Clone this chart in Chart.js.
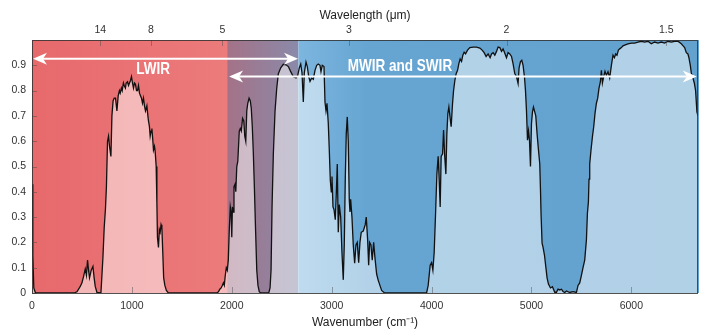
<!DOCTYPE html>
<html>
<head>
<meta charset="utf-8">
<script src="https://cdn.jsdelivr.net/npm/chart.js@4.4.1/dist/chart.umd.min.js"></script>
<style>
  html, body { margin: 0; padding: 0; background: #fff; }
</style>
</head>
<body>
<canvas id="chart" width="703" height="330"></canvas>
<script>
'use strict';

/* ── Datos: transmisión atmosférica vs número de onda ── */
const wavenumber = [
  0, 8, 18, 35, 200, 420, 450, 483, 500, 516, 533, 545, 556, 566, 576, 593, 610, 622, 633, 650,
  690, 710, 723, 735, 745, 756, 766, 776, 790, 800, 812, 823, 836, 850, 863, 875, 883, 895, 903, 915,
  923, 935, 943, 956, 966, 976, 986, 996, 1006, 1016, 1026, 1036, 1046, 1056, 1066, 1076, 1086, 1096, 1106, 1116,
  1126, 1136, 1150, 1160, 1166, 1175, 1183, 1192, 1200, 1210, 1216, 1226, 1233, 1243, 1250, 1256, 1266, 1275, 1283, 1292,
  1300, 1310, 1318, 1330, 1345, 1365, 1850, 1866, 1880, 1893, 1905, 1916, 1925, 1935, 1945, 1955, 1965, 1975, 1985, 1993,
  2000, 2006, 2015, 2022, 2033, 2040, 2050, 2060, 2075, 2085, 2095, 2108, 2120, 2130, 2140, 2150, 2160, 2173, 2185, 2195,
  2205, 2215, 2226, 2238, 2250, 2262, 2275, 2290, 2370, 2383, 2393, 2403, 2416, 2433, 2450, 2466, 2490, 2516, 2543, 2566,
  2590, 2616, 2643, 2660, 2676, 2690, 2703, 2716, 2726, 2743, 2756, 2770, 2783, 2800, 2816, 2833, 2850, 2866, 2883, 2893,
  2906, 2923, 2933, 2943, 2953, 2966, 2976, 2986, 2996, 3003, 3013, 3023, 3036, 3046, 3056, 3066, 3076, 3090, 3103, 3116,
  3126, 3136, 3146, 3156, 3166, 3176, 3183, 3190, 3203, 3216, 3230, 3243, 3256, 3270, 3283, 3296, 3316, 3336, 3346, 3360,
  3370, 3380, 3393, 3406, 3420, 3433, 3450, 3466, 3483, 3500, 3530, 3950, 3966, 3986, 4000, 4013, 4026, 4040, 4053, 4066,
  4076, 4086, 4096, 4110, 4120, 4130, 4143, 4153, 4163, 4173, 4186, 4196, 4210, 4220, 4233, 4246, 4260, 4273, 4286, 4300,
  4313, 4326, 4340, 4360, 4383, 4416, 4450, 4483, 4506, 4526, 4546, 4566, 4586, 4600, 4616, 4633, 4650, 4666, 4683, 4700,
  4716, 4733, 4750, 4766, 4783, 4800, 4816, 4833, 4850, 4866, 4876, 4890, 4903, 4916, 4930, 4940, 4950, 4960, 4970, 4980,
  4990, 5000, 5010, 5020, 5030, 5043, 5056, 5070, 5083, 5090, 5096, 5106, 5116, 5130, 5143, 5156, 5170, 5190, 5210, 5233,
  5250, 5266, 5283, 5300, 5316, 5333, 5350, 5383, 5416, 5450, 5466, 5483, 5500, 5516, 5533, 5550, 5560, 5570, 5576, 5583,
  5596, 5610, 5623, 5636, 5650, 5663, 5676, 5690, 5700, 5710, 5723, 5736, 5750, 5766, 5783, 5800, 5816, 5830, 5843, 5856,
  5870, 5883, 5900, 5916, 5933, 5966, 6000, 6033, 6066, 6100, 6133, 6166, 6200, 6233, 6266, 6300, 6333, 6366, 6400, 6433,
  6466, 6500, 6516, 6533, 6550, 6566, 6576, 6590, 6600, 6616, 6630, 6643, 6656, 6667
];

const transmission = [
  0.43, 0.15, 0.02, 0, 0, 0, 0.005, 0.026, 0.04, 0.065, 0.095, 0.07, 0.13, 0.09, 0.06, 0.09, 0.105, 0.06, 0.026, 0.002,
  0, 0.14, 0.26, 0.33, 0.42, 0.60, 0.62, 0.58, 0.54, 0.70, 0.76, 0.77, 0.77, 0.72, 0.78, 0.80, 0.79, 0.81, 0.80, 0.83,
  0.82, 0.81, 0.83, 0.835, 0.82, 0.83, 0.84, 0.855, 0.83, 0.81, 0.83, 0.825, 0.80, 0.80, 0.82, 0.79, 0.78, 0.77, 0.75, 0.77,
  0.74, 0.72, 0.74, 0.70, 0.68, 0.66, 0.62, 0.64, 0.65, 0.60, 0.565, 0.58, 0.56, 0.50, 0.36, 0.22, 0.18, 0.25, 0.24, 0.27,
  0.26, 0.15, 0.06, 0.03, 0.01, 0, 0, 0.005, 0.015, 0.02, 0.03, 0.04, 0.03, 0.07, 0.10, 0.09, 0.13, 0.25, 0.34, 0.32,
  0.22, 0.34, 0.32, 0.42, 0.43, 0.40, 0.50, 0.52, 0.64, 0.65, 0.64, 0.69, 0.68, 0.62, 0.60, 0.72, 0.75, 0.77, 0.76, 0.73,
  0.66, 0.56, 0.42, 0.25, 0.09, 0.03, 0.005, 0, 0, 0.02, 0.09, 0.34, 0.55, 0.72, 0.81, 0.867, 0.89, 0.904, 0.902, 0.895,
  0.875, 0.855, 0.85, 0.86, 0.89, 0.905, 0.87, 0.755, 0.87, 0.913, 0.895, 0.855, 0.836, 0.85, 0.845, 0.88, 0.90, 0.905, 0.90, 0.875,
  0.90, 0.895, 0.755, 0.72, 0.75, 0.67, 0.565, 0.447, 0.40, 0.46, 0.34, 0.33, 0.29, 0.39, 0.51, 0.24, 0.35, 0.30, 0.158, 0.052,
  0.19, 0.45, 0.63, 0.696, 0.60, 0.37, 0.32, 0.37, 0.30, 0.19, 0.118, 0.19, 0.20, 0.12, 0.20, 0.24, 0.245, 0.27, 0.30, 0.21,
  0.11, 0.20, 0.19, 0.13, 0.20, 0.14, 0.075, 0.05, 0.03, 0.01, 0, 0, 0.03, 0.11, 0.12, 0.09, 0.16, 0.315, 0.47, 0.54,
  0.45, 0.34, 0.54, 0.55, 0.644, 0.55, 0.47, 0.63, 0.71, 0.735, 0.69, 0.657, 0.75, 0.80, 0.84, 0.867, 0.88, 0.907, 0.925, 0.915,
  0.94, 0.952, 0.945, 0.96, 0.97, 0.972, 0.972, 0.968, 0.96, 0.95, 0.935, 0.945, 0.93, 0.945, 0.95, 0.94, 0.955, 0.972, 0.97, 0.955,
  0.965, 0.948, 0.93, 0.95, 0.945, 0.935, 0.906, 0.867, 0.855, 0.828, 0.89, 0.915, 0.92, 0.90, 0.853, 0.80, 0.72, 0.604, 0.64, 0.604,
  0.50, 0.67, 0.716, 0.735, 0.72, 0.70, 0.63, 0.565, 0.51, 0.41, 0.31, 0.197, 0.18, 0.15, 0.105, 0.06, 0.035, 0.02, 0.025, 0.003,
  0.003, 0.015, 0.012, 0.015, 0.006, 0.002, 0.008, 0.002, 0.005, 0.002, 0.03, 0.04, 0.07, 0.10, 0.13, 0.21, 0.315, 0.36, 0.45, 0.51,
  0.565, 0.617, 0.657, 0.71, 0.75, 0.77, 0.81, 0.835, 0.88, 0.83, 0.855, 0.876, 0.86, 0.875, 0.85, 0.90, 0.94, 0.93, 0.945, 0.94,
  0.96, 0.965, 0.97, 0.977, 0.98, 0.985, 0.988, 0.988, 0.992, 0.995, 0.992, 0.995, 0.985, 0.992, 0.988, 0.992, 0.988, 0.995, 0.992, 0.995,
  0.995, 0.985, 0.978, 0.97, 0.95, 0.945, 0.93, 0.90, 0.87, 0.85, 0.83, 0.80, 0.716, 0.70
];

/* ── Ejes ── */
const xTicks = [0, 1000, 2000, 3000, 4000, 5000, 6000];
const yTicks = [0, 0.1, 0.2, 0.3, 0.4, 0.5, 0.6, 0.7, 0.8, 0.9];
const wavelengthLabels = ['14', '8', '5', '3', '2', '1.5'];
const wavelengthTickAt = [683, 1190, 1906, 3173, 4750, 6350];

/* ── Bandas y flechas (en unidades de datos) ── */
const bandEdges = [0, 1953, 2667, 6667];
const bandNames = ['LWIR', 'MWIR and SWIR'];
const arrowFrom = [0, 1963];
const arrowTo = [2663, 6655];
const arrowLevel = [0.926, 0.856];
const nameAt = [1213, 3683];
const nameLevel = [0.885, 0.894];

const TICK_FONT = { family: '"Liberation Sans", Arial, sans-serif', size: 10.5 };
const TITLE_FONT = { family: '"Liberation Sans", Arial, sans-serif', size: 12 };
const BAND_FONT = 'bold 16.5px "Liberation Sans", Arial, sans-serif';

/* ── Fondo por bandas ── */
const bandBackground = {
  id: 'bandBackground',
  beforeDatasetsDraw(chart) {
    const { ctx, chartArea: a, scales: { x } } = chart;
    const px = v => x.getPixelForValue(v);
    const h = a.bottom - a.top;
    ctx.save();

    const x0 = px(bandEdges[0]), x1 = px(bandEdges[1]), x2 = px(bandEdges[2]), x3 = px(bandEdges[3]);

    let g = ctx.createLinearGradient(x0, 0, x1, 0);
    g.addColorStop(0, '#e7696c');
    g.addColorStop(1, '#ec7b7c');
    ctx.fillStyle = g;
    ctx.fillRect(x0, a.top, x1 - x0, h);

    g = ctx.createLinearGradient(x1, 0, x2, 0);
    g.addColorStop(0, '#a47287');
    g.addColorStop(1, '#8a8aaa');
    ctx.fillStyle = g;
    ctx.fillRect(x1, a.top, x2 - x1, h);

    g = ctx.createLinearGradient(x2, 0, x3, 0);
    g.addColorStop(0, '#7db6df');
    g.addColorStop(0.17, '#66a5d2');
    g.addColorStop(1, '#63a2cf');
    ctx.fillStyle = g;
    ctx.fillRect(x2, a.top, x3 - x2 + 1, h);

    ctx.restore();
  }
};

/* ── Marco, marcas internas, flechas y rótulos ── */
function arrowHead(ctx, x, y, dir) {
  ctx.beginPath();
  ctx.moveTo(x, y);
  ctx.lineTo(x - dir * 14, y - 6);
  ctx.lineTo(x - dir * 10, y);
  ctx.lineTo(x - dir * 14, y + 6);
  ctx.closePath();
  ctx.fill();
}

const overlay = {
  id: 'overlay',
  afterDatasetsDraw(chart) {
    const { ctx, chartArea: a, scales } = chart;
    const { x, x2, y } = scales;
    ctx.save();

    /* marcas hacia dentro */
    ctx.lineWidth = 1;
    ctx.strokeStyle = 'rgba(70,70,70,0.45)';
    ctx.beginPath();
    y.ticks.forEach(t => {
      const py = Math.round(y.getPixelForValue(t.value)) + 0.5;
      ctx.moveTo(a.left, py); ctx.lineTo(a.left + 5, py);
    });
    x.ticks.forEach(t => {
      const p = Math.round(x.getPixelForValue(t.value)) + 0.5;
      ctx.moveTo(p, a.bottom); ctx.lineTo(p, a.bottom - 6);
    });
    x2.ticks.forEach(t => {
      const p = Math.round(x2.getPixelForValue(t.value)) + 0.5;
      ctx.moveTo(p, a.top); ctx.lineTo(p, a.top + 6);
    });
    ctx.stroke();

    /* flechas */
    ctx.strokeStyle = '#fff';
    ctx.fillStyle = '#fff';
    ctx.lineWidth = 2;
    arrowFrom.forEach((from, i) => {
      const xa = x.getPixelForValue(from) + 1;
      const xb = x.getPixelForValue(arrowTo[i]);
      const py = y.getPixelForValue(arrowLevel[i]);
      ctx.beginPath();
      ctx.moveTo(xa + 10, py); ctx.lineTo(xb - 10, py);
      ctx.stroke();
      arrowHead(ctx, xa, py, -1);
      arrowHead(ctx, xb, py, 1);
    });

    /* rótulos de banda (tipografía estrecha) */
    ctx.font = BAND_FONT;
    ctx.textAlign = 'center';
    ctx.textBaseline = 'middle';
    bandNames.forEach((name, i) => {
      const cx = x.getPixelForValue(nameAt[i]);
      const cy = y.getPixelForValue(nameLevel[i]);
      ctx.save();
      ctx.translate(cx, cy);
      ctx.scale(0.82, 1);
      ctx.fillText(name, 0, 0);
      ctx.restore();
    });

    /* marco */
    ctx.strokeStyle = 'rgba(50,50,50,0.85)';
    ctx.lineWidth = 1;
    ctx.strokeRect(Math.round(a.left) + 0.5, Math.round(a.top) + 0.5,
                   Math.round(a.right - a.left) - 1, Math.round(a.bottom - a.top));
    ctx.restore();
  }
};

/* ── Gráfica ── */
const points = wavenumber.map((w, i) => ({ x: w, y: transmission[i] }));

new Chart(document.getElementById('chart'), {
  type: 'line',
  data: {
    datasets: [{
      data: points,
      borderColor: '#111',
      borderWidth: 1.3,
      backgroundColor: 'rgba(255,255,255,0.5)',
      fill: 'origin',
      pointRadius: 0,
      tension: 0,
      xAxisID: 'x',
      yAxisID: 'y'
    }]
  },
  options: {
    responsive: false,
    animation: false,
    layout: { padding: { left: 0, right: 5, top: 0, bottom: 0 } },
    plugins: { legend: { display: false }, tooltip: { enabled: false } },
    scales: {
      x: {
        type: 'linear', position: 'bottom', min: 0, max: 6667,
        afterBuildTicks: s => { s.ticks = xTicks.map(v => ({ value: v })); },
        afterFit: s => { s.height = 37; },
        grid: { display: false, drawTicks: false }, border: { display: false },
        ticks: { autoSkip: false, maxRotation: 0, padding: 7, color: '#333', font: TICK_FONT,
                 callback: v => String(v) },
        title: { display: true, text: 'Wavenumber (cm⁻¹)', color: '#222', font: TITLE_FONT,
                 padding: { top: 0, bottom: 0 } }
      },
      x2: {
        type: 'linear', position: 'top', min: 0, max: 6667,
        afterBuildTicks: s => { s.ticks = wavelengthTickAt.map(v => ({ value: v })); },
        afterFit: s => { s.height = 40; },
        grid: { display: false, drawTicks: false }, border: { display: false },
        ticks: { autoSkip: false, maxRotation: 0, padding: 4, color: '#333', font: TICK_FONT,
                 callback: (v, i) => wavelengthLabels[i] },
        title: { display: true, text: 'Wavelength (μm)', color: '#222', font: TITLE_FONT,
                 padding: { top: 8, bottom: 0 } }
      },
      y: {
        type: 'linear', min: 0, max: 1,
        afterBuildTicks: s => { s.ticks = yTicks.map(v => ({ value: v })); },
        afterFit: s => { s.width = 32; },
        grid: { display: false, drawTicks: false }, border: { display: false },
        ticks: { padding: 6, color: '#333', font: TICK_FONT,
                 callback: v => (v === 0 ? '0' : v.toFixed(1)) }
      }
    }
  },
  plugins: [bandBackground, overlay]
});
</script>
</body>
</html>
